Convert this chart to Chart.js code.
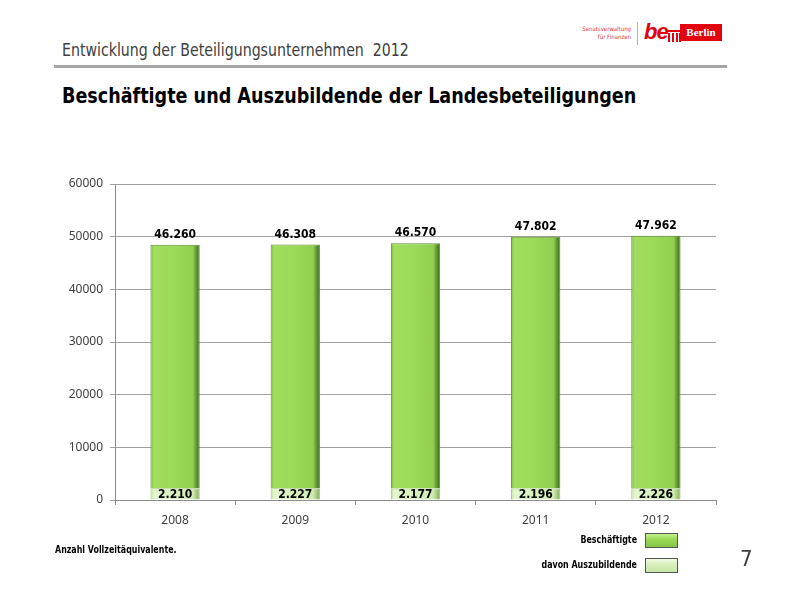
<!DOCTYPE html>
<html>
<head>
<meta charset="utf-8">
<script src="https://cdn.jsdelivr.net/npm/chart.js@4"></script>
<style>
  html, body { margin: 0; padding: 0; background: #fff; }
  body { width: 800px; height: 600px; position: relative; overflow: hidden; font-family: "DejaVu Sans Condensed", "Liberation Sans", sans-serif; }
  .abs { position: absolute; white-space: nowrap; }
  #subtitle { left: 62px; top: 40px; font-size: 17px; color: #404040; transform: scaleX(0.925); transform-origin: left top; }
  #rule { left: 54px; top: 65px; width: 673px; height: 3px; background: #a6a6a6; }
  #heading { left: 62px; top: 84px; font-size: 21px; font-weight: bold; color: #000; transform: scaleX(0.93); transform-origin: left top; }
  #note { left: 55px; top: 544px; font-size: 10px; font-weight: bold; color: #000; transform: scaleX(0.88); transform-origin: left top; }
  #page { left: 740px; top: 546px; font-size: 22px; color: #404040; font-family: "Liberation Sans Narrow", "DejaVu Sans Condensed", sans-serif; }
  .leg { font-size: 10px; font-weight: bold; color: #000; text-align: right; width: 200px; transform: scaleX(0.88); transform-origin: right top; }
  .box { width: 31px; height: 13px; border: 1px solid #555; }
  #sen { left: 560px; top: 25px; width: 71px; font-size: 6px; line-height: 8px; color: #e0373a; text-align: right; }
  #vline { left: 637px; top: 22px; width: 1px; height: 23px; background: #e89a9a; }
  #be { left: 644px; top: 19px; font-size: 22px; font-weight: bold; font-style: italic; color: #e3000f; font-family: "Liberation Sans", sans-serif; letter-spacing: -1px; }
  #gate { left: 667px; top: 30px; width: 14px; height: 12px; }
  #berlin { left: 680px; top: 24px; width: 42px; height: 17px; background: #e3000f; color: #fff; font-size: 11px; font-weight: bold; line-height: 17px; text-align: center; font-family: "Liberation Serif", serif; }
  #chart { position: absolute; left: 0; top: 0; }
</style>
</head>
<body>
<div class="abs" id="subtitle">Entwicklung der Beteiligungsunternehmen&nbsp; 2012</div>
<div class="abs" id="rule"></div>
<div class="abs" id="heading">Beschäftigte und Auszubildende der Landesbeteiligungen</div>
<div class="abs" id="sen">Senatsverwaltung<br>für Finanzen</div>
<div class="abs" id="vline"></div>
<div class="abs" id="be">be</div>
<div class="abs" id="gate">
  <div style="position:absolute;left:0;top:0;width:14px;height:2px;background:#e3000f;"></div>
  <div style="position:absolute;left:1px;top:3px;width:2px;height:9px;background:#e3000f;"></div>
  <div style="position:absolute;left:5px;top:3px;width:2px;height:9px;background:#e3000f;"></div>
  <div style="position:absolute;left:9px;top:3px;width:2px;height:9px;background:#e3000f;"></div>
  <div style="position:absolute;left:12px;top:3px;width:2px;height:9px;background:#e3000f;"></div>
</div>
<div class="abs" id="berlin">Berlin</div>

<canvas id="chart" width="800" height="600"></canvas>

<div class="abs" id="note">Anzahl Vollzeitäquivalente.</div>
<div class="abs leg" style="left:437px; top:534px;">Beschäftigte</div>
<div class="abs box" style="left:645px; top:533px; background:linear-gradient(to bottom,#c4ef8c,#9bd957 40%,#86c447);"></div>
<div class="abs leg" style="left:437px; top:559px;">davon Auszubildende</div>
<div class="abs box" style="left:645px; top:558px; background:linear-gradient(to bottom,#eefadf,#d9f0bd 40%,#c8e6a6);"></div>
<div class="abs" id="page">7</div>

<script>
// Data
var years = ["2008", "2009", "2010", "2011", "2012"];
var beschaeftigte = [46260, 46308, 46570, 47802, 47962];
var auszubildende = [2210, 2227, 2177, 2196, 2226];
var yTicks = [0, 10000, 20000, 30000, 40000, 50000, 60000];

var barPct = 0.41;

function fmtDE(n) {
    return String(n).replace(/\B(?=(\d{3})+(?!\d))/g, ".");
}

// horizontal bevel-like gradient for each bar
function barFill(stops, fallback) {
    return function (context) {
        var chart = context.chart;
        if (!chart.chartArea || !chart.scales.x) return fallback;
        var xs = chart.scales.x;
        var cx = xs.getPixelForValue(context.dataIndex);
        var w = (xs.width / years.length) * barPct;
        var g = chart.ctx.createLinearGradient(cx - w / 2, 0, cx + w / 2, 0);
        stops.forEach(function (s) { g.addColorStop(s[0], s[1]); });
        return g;
    };
}

var greenStops = [[0, "#7dbd3e"], [0.07, "#a2dd5e"], [0.5, "#9bd957"], [0.86, "#92cf50"], [0.93, "#5f9731"], [1, "#3b6a1c"]];
var lightStops = [[0, "#bfe097"], [0.07, "#e4f6cf"], [0.5, "#d9f0bd"], [0.86, "#d0eab0"], [0.93, "#a8cc85"], [1, "#7fa65c"]];

// value labels
var labelPlugin = {
    id: "valueLabels",
    afterDatasetsDraw: function (chart) {
        var ctx = chart.ctx;
        var metaA = chart.getDatasetMeta(0);
        var metaB = chart.getDatasetMeta(1);
        ctx.save();
        ctx.font = "bold 12px 'DejaVu Sans Condensed'";
        ctx.fillStyle = "#000";
        ctx.textAlign = "center";
        ctx.textBaseline = "middle";
        metaB.data.forEach(function (bar, i) {
            ctx.fillText(fmtDE(beschaeftigte[i]), bar.x, bar.y - 10);
        });
        metaA.data.forEach(function (bar, i) {
            ctx.fillText(fmtDE(auszubildende[i]), bar.x, (bar.y + bar.base) / 2 + 1);
        });
        ctx.restore();
    }
};

var ctx = document.getElementById("chart").getContext("2d");

var chartData = {
    labels: years,
    datasets: [
        {
            label: "davon Auszubildende",
            data: auszubildende,
            backgroundColor: barFill(lightStops, "#d9f0bd"),
            borderColor: "#9fc57c",
            borderWidth: 1,
        },
        {
            label: "Beschäftigte",
            data: beschaeftigte,
            backgroundColor: barFill(greenStops, "#9bd957"),
            borderColor: "#5e8f30",
            borderWidth: 1,
        },
    ],
};

var chartOptions = {
    responsive: false,
    animation: false,
    layout: {
        padding: { left: 55, top: 184, right: 84, bottom: 70 },
    },
    datasets: {
        bar: { barPercentage: barPct, categoryPercentage: 1 },
    },
    plugins: {
        legend: { display: false },
        tooltip: { enabled: false },
    },
    scales: {
        x: {
            stacked: true,
            afterFit: function (scale) { scale.height = 30; },
            grid: {
                drawOnChartArea: false,
                drawTicks: true,
                tickLength: 5,
                color: "#8c8c8c",
            },
            border: { color: "#8c8c8c" },
            ticks: {
                padding: 8,
                color: "#404040",
                font: { family: "Noto Sans", size: 12 },
            },
        },
        y: {
            stacked: true,
            min: yTicks[0],
            max: yTicks[yTicks.length - 1],
            afterFit: function (scale) { scale.width = 60; },
            afterBuildTicks: function (scale) {
                scale.ticks = yTicks.map(function (v) { return { value: v }; });
            },
            grid: {
                color: "#a0a0a0",
                tickLength: 5,
            },
            border: { color: "#8c8c8c" },
            ticks: {
                padding: 7,
                color: "#404040",
                font: { family: "Noto Sans", size: 12 },
                callback: function (v) { return String(v); },
            },
        },
    },
};

var myChart = new Chart(ctx, {
    type: "bar",
    data: chartData,
    options: chartOptions,
    plugins: [labelPlugin],
});
</script>
</body>
</html>
